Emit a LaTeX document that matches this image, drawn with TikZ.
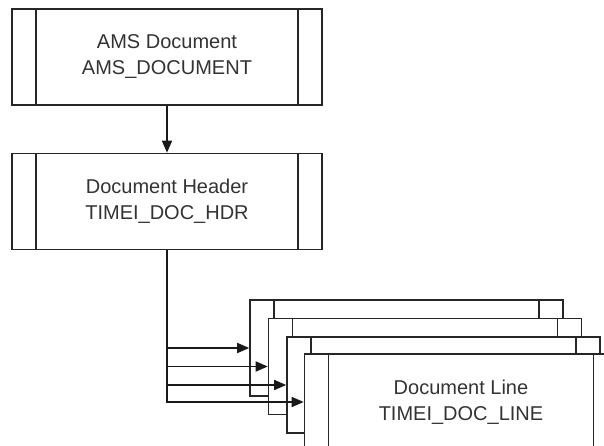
\documentclass[tikz,border=0pt]{standalone}
\usepackage{fontspec}
\setmainfont{Liberation Sans}
\usepackage{tikz}
\usetikzlibrary{
    arrows.meta,
    positioning
}
\tikzset{
    % box with a strip on each side (predefined process)
    tablebox/.style={
        draw=black!85,
        fill=white,
        line width=1.6pt,
        minimum width=310pt,
        minimum height=96pt,
        align=center,
        text=black!80,
        font=\fontsize{20}{26}\selectfont,
        path picture={
            \draw[line width=1.6pt, black!85]
            ([xshift=24pt]path picture bounding box.north west) --
            ([xshift=24pt]path picture bounding box.south west)
            ([xshift=-24pt]path picture bounding box.north east) --
            ([xshift=-24pt]path picture bounding box.south east);
        }
    },
    % connector with a filled head
    link/.style={
        line width=1.6pt,
        black!90,
        -{Triangle[length=12pt,width=10pt]}
    }
}
\begin{document}
\begin{tikzpicture}[x=1pt, y=-1pt]
            \useasboundingbox (0,0) rectangle (604,446);
            \clip (0,0) rectangle (604,446);
            \node[tablebox] (ams) at (167,57) {AMS Document\\AMS\_DOCUMENT};
            \node[tablebox] (hdr) at (167,201.5) {Document Header\\TIMEI\_DOC\_HDR};
            \node[tablebox, minimum width=313pt] (lineA) at (406.5,348) {};
            \node[tablebox, minimum width=313pt] (lineB) at (425,366.5) {};
            \node[tablebox, minimum width=313pt] (lineC) at (443.5,385) {};
            \node[tablebox, minimum width=313pt] (lineD) at (461,402) {Document Line\\TIMEI\_DOC\_LINE};
            \draw[link] (ams) -- (hdr);
            \foreach \b in {lineA, lineB, lineC, lineD} {
                \draw[link] (hdr.south) |- (\b.west);
            }
        \end{tikzpicture}
\end{document}
